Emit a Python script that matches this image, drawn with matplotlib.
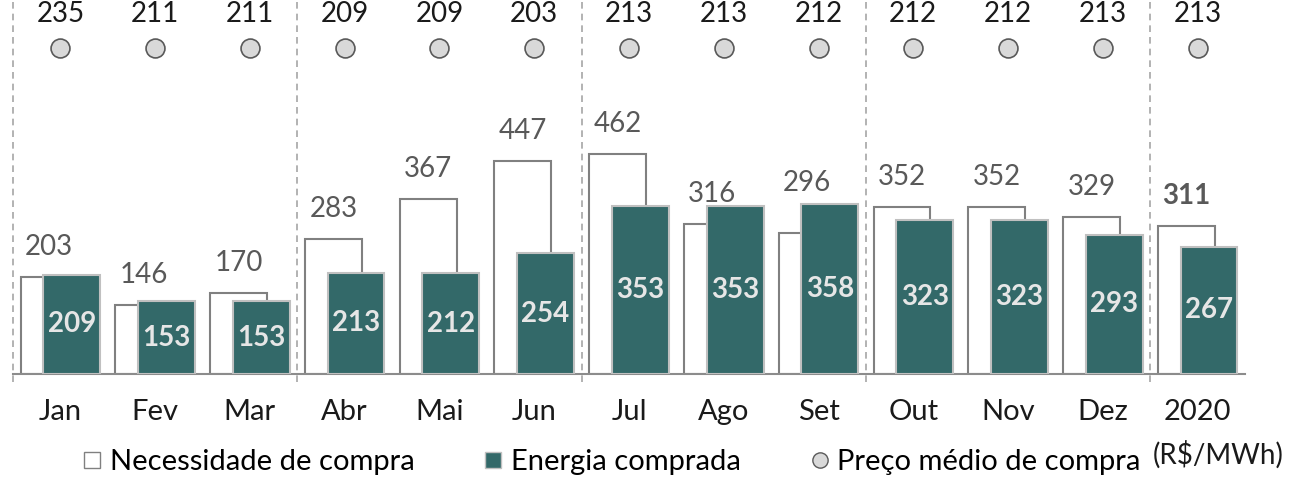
import matplotlib
matplotlib.use("Agg")
import matplotlib.pyplot as plt
from matplotlib.lines import Line2D
from matplotlib.transforms import blended_transform_factory
import numpy as np

plt.rcParams['font.family'] = ['Lato', 'DejaVu Sans']

# data
categories = ['Jan', 'Fev', 'Mar', 'Abr', 'Mai', 'Jun', 'Jul', 'Ago', 'Set',
              'Out', 'Nov', 'Dez', '2020']
necessidade = [203, 146, 170, 283, 367, 447, 462, 316, 296, 352, 352, 329, 311]
comprada = [209, 153, 153, 213, 212, 254, 353, 353, 358, 323, 323, 293, 267]
preco = [235, 211, 211, 209, 209, 203, 213, 213, 212, 212, 212, 213, 213]
separadores = [-0.5, 2.5, 5.5, 8.5, 11.5]

teal = '#336969'
x = np.arange(len(categories))
w = 0.6
off = 0.12
fs = 20

fig = plt.figure(figsize=(12.89, 4.8), dpi=100)
ax = fig.add_axes([13 / 1289, 106 / 480, 1232 / 1289, 374 / 480])

ax.bar(x - off, necessidade, width=w, color='white', edgecolor='#808080',
       linewidth=1.5, zorder=2)
ax.bar(x + off, comprada, width=w, color=teal, edgecolor='#c0c0c0',
       linewidth=1.5, zorder=3)

# value labels (lifted above the teal bar when they would overlap it)
for i, v in enumerate(necessidade):
    y = v + 63
    if y - 20 < comprada[i]:
        y = comprada[i] + 44
    bold = categories[i] == '2020'
    ax.text(x[i] - off, y, str(v), ha='center', va='center', fontsize=fs,
            color='#595959', fontweight='bold' if bold else 'normal', zorder=4)
for i, v in enumerate(comprada):
    ax.text(x[i] + off, v / 2, str(v), ha='center', va='center', fontsize=fs,
            color='#e6e6e6', fontweight='bold', zorder=4)

# price dots on top
tr = blended_transform_factory(ax.transData, ax.transAxes)
ax.scatter(x, [0.872] * len(x), s=185, color='#d9d9d9', edgecolor='#595959',
           linewidth=1.2, transform=tr, zorder=4, clip_on=False)
for i, p in enumerate(preco):
    ax.text(x[i], 0.962, str(p), transform=tr, ha='center', va='center',
            fontsize=fs, color='#1a1a1a')

for s in separadores:
    ax.axvline(s, ymin=-0.022, ymax=1, color='#a6a6a6', linestyle=(0, (4, 3)),
               linewidth=1.2, clip_on=False, zorder=1)

ax.set_xlim(-0.5, 12.5)
ax.set_ylim(0, 786)
ax.set_xticks(x)
ax.set_xticklabels(categories, fontsize=fs + 1, color='#1a1a1a')
ax.tick_params(axis='x', length=0, pad=18)
ax.set_yticks([])
for sp in ['top', 'left', 'right']:
    ax.spines[sp].set_visible(False)
ax.spines['bottom'].set_color('#8c8c8c')
ax.spines['bottom'].set_linewidth(1.5)

handles = [
    Line2D([], [], marker='s', linestyle='none', markersize=11,
           markerfacecolor='white', markeredgecolor='#808080'),
    Line2D([], [], marker='s', linestyle='none', markersize=11,
           markerfacecolor=teal, markeredgecolor='#c0c0c0'),
    Line2D([], [], marker='o', linestyle='none', markersize=11,
           markerfacecolor='#d9d9d9', markeredgecolor='#595959'),
]
labels = ['Necessidade de compra', 'Energia comprada', 'Preço médio de compra']
fig.legend(handles, labels, loc='center', bbox_to_anchor=(612 / 1289, 1 - 462 / 480),
           ncol=3, frameon=False, fontsize=fs + 1, handletextpad=0.3,
           columnspacing=2.4, handlelength=0.6, borderpad=0)
fig.text(1218 / 1289, 1 - 455 / 480, '(R$/MWh)', ha='center', va='center',
         fontsize=fs, color='#1a1a1a')

fig.savefig('out.png', dpi=100)
